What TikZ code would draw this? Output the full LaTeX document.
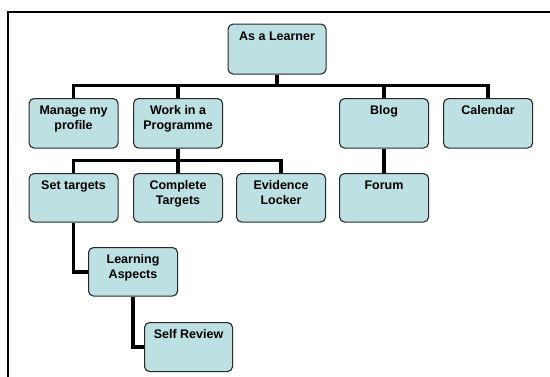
\documentclass[tikz,border=0pt]{standalone}
\usepackage{fontspec}
\setmainfont{Liberation Sans}
\definecolor{boxfill}{RGB}{189,224,227}
\definecolor{boxline}{RGB}{40,40,40}
\newcommand{\bxt}[3]{\parbox[t][#2][t]{#1}{\centering\rule{0pt}{16pt}#3}}
\begin{document}
\begin{tikzpicture}[x=1pt,y=-1pt,
  box/.style={draw=boxline, fill=boxfill, rounded corners=5pt, line width=1.1pt,
    inner sep=0pt, anchor=north west,
    font=\bfseries\fontsize{12.5}{14.5}\selectfont},
  conn/.style={line width=3.6pt, black, line cap=butt, line join=miter},
  frameline/.style={line width=1.8pt, black}]
\useasboundingbox (0,0) rectangle (550,376);
\draw[frameline] (8,377) -- (8,12) -- (551,12);
% bar levels
\coordinate (b1) at (0,85.5);
\coordinate (b2) at (0,160.5);
% connectors drawn first (behind boxes) using nodes defined later via positions
\node[box] (root) at (227.5,23.5) {\bxt{98pt}{50pt}{As a Learner}};
\node[box] (manage) at (28.5,98) {\bxt{89pt}{49.5pt}{Manage my\\profile}};
\node[box] (work) at (133,98) {\bxt{89pt}{49.5pt}{Work in a\\Programme}};
\node[box] (blog) at (339,98) {\bxt{89pt}{49.5pt}{Blog}};
\node[box] (calendar) at (443,98) {\bxt{89pt}{49.5pt}{Calendar}};
\node[box] (settargets) at (28.5,173) {\bxt{89pt}{48.5pt}{Set targets}};
\node[box] (complete) at (133,173) {\bxt{89pt}{48.5pt}{Complete\\Targets}};
\node[box] (evidence) at (236,173) {\bxt{89pt}{48.5pt}{Evidence\\Locker}};
\node[box] (forum) at (339,173) {\bxt{89pt}{48.5pt}{Forum}};
\node[box] (learning) at (88,247) {\bxt{89pt}{48.5pt}{Learning\\Aspects}};
\node[box] (selfreview) at (144,322) {\bxt{88pt}{49pt}{Self Review}};
% connectors
\draw[conn] (root.south) -- (root.south |- b1);
\draw[conn] (manage.north) -- (manage.north |- b1) -- (calendar.north |- b1) -- (calendar.north);
\draw[conn] (work.north |- b1) -- (work.north);
\draw[conn] (blog.north |- b1) -- (blog.north);
\draw[conn] (work.south) -- (work.south |- b2);
\draw[conn] (settargets.north) -- (settargets.north |- b2) -- (evidence.north |- b2) -- (evidence.north);
\draw[conn] (complete.north |- b2) -- (complete.north);
\draw[conn] (blog.south) -- (forum.north);
\draw[conn] (settargets.south) |- (learning.west);
\draw[conn] (learning.south) |- (selfreview.west);
\end{tikzpicture}
\end{document}
